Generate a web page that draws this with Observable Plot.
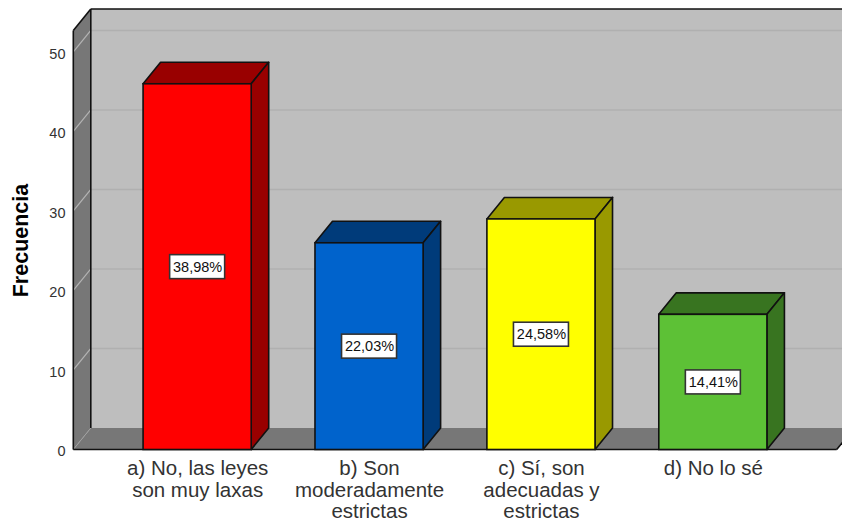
<!DOCTYPE html>
<html>
<head>
<meta charset="utf-8">
<script src="https://cdn.jsdelivr.net/npm/d3@7"></script>
<script src="https://cdn.jsdelivr.net/npm/@observablehq/plot@0.6"></script>
<style>
html,body{margin:0;padding:0;background:#fff;overflow:hidden}
svg{display:block}
</style>
</head>
<body>
<div id="chart"></div>
<script>
const categorias = ["a) No, las leyes\nson muy laxas", "b) Son\nmoderadamente\nestrictas", "c) Sí, son\nadecuadas y\nestrictas", "d) No lo sé"];
const frecuencias = [46, 26, 29, 17];
const porcentajes = ["38,98%", "22,03%", "24,58%", "14,41%"];
const coloresFrente = ["#FF0000", "#0063CC", "#FFFF00", "#5DC136"];
const coloresLado = ["#990000", "#003B7A", "#999900", "#387420"];
const ticksY = [0, 10, 20, 30, 40, 50];
const topeY = 52.7;

const filas = categorias.map((c, i) => ({c, f: frecuencias[i], p: porcentajes[i], col: coloresFrente[i], lado: coloresLado[i]}));

const DX = 17.5, DY = -21.5, PAD = 6;
const poly = (g, pts, fill, stroke, sw) => g.append("path")
  .attr("d", "M" + pts.map(p => p.join(",")).join("L") + "Z")
  .attr("fill", fill).attr("stroke", stroke || "none").attr("stroke-width", sw || 0).attr("stroke-linejoin", "round");
const seg = (g, x1, y1, x2, y2, stroke, sw) => g.append("line")
  .attr("x1", x1).attr("y1", y1).attr("x2", x2).attr("y2", y2)
  .attr("stroke", stroke).attr("stroke-width", sw);

function escenario(index, {x, y}) {
  const g = d3.create("svg:g");
  const r = x.range();
  const left = d3.min(r) - PAD, right = d3.max(r) + PAD;
  const y0 = y(0), yT = y(topeY);
  poly(g, [[left + DX, yT + DY], [860, yT + DY], [860, y0 + DY], [left + DX, y0 + DY]], "#BEBEBE");
  poly(g, [[left, y0], [right, y0], [right + DX, y0 + DY], [left + DX, y0 + DY]], "#777777");
  poly(g, [[left, yT], [left + DX, yT + DY], [left + DX, y0 + DY], [left, y0]], "#777777");
  for (const t of ticksY.filter(t => t > 0)) {
    seg(g, left + DX, y(t) + DY, 860, y(t) + DY, "#B0B0B0", 1.5);
    seg(g, left, y(t), left + DX, y(t) + DY, "#B4B4B4", 1.2);
  }
  seg(g, left, y0, left + DX, y0 + DY, "#A0A0A0", 1);
  seg(g, left, yT, left, y0, "#111", 1.6);
  seg(g, left + DX, yT + DY, left + DX, y0 + DY, "#111", 1.6);
  seg(g, left, yT, left + DX, yT + DY, "#111", 1.6);
  seg(g, left + DX, yT + DY, 860, yT + DY, "#111", 1.6);
  seg(g, left, y0, right, y0, "#111", 1.6);
  seg(g, right, y0, right + DX, y0 + DY, "#111", 1.6);
  return g.node();
}

function caras(index, {x, y}) {
  const g = d3.create("svg:g");
  const w = x.bandwidth();
  for (const d of filas) {
    const a = x(d.c), b = a + w, t = y(d.f), z = y(0);
    poly(g, [[a, t], [b, t], [b + DX, t + DY], [a + DX, t + DY]], d.lado, "#111", 1.6);
    poly(g, [[b, t], [b + DX, t + DY], [b + DX, z + DY], [b, z]], d.lado, "#111", 1.6);
  }
  return g.node();
}

function cajas(index, {x, y}) {
  const g = d3.create("svg:g");
  const w = x.bandwidth();
  for (const d of filas) {
    const cx = x(d.c) + w / 2, cy = y(d.f / 2);
    g.append("rect").attr("x", cx - 27.5).attr("y", cy - 12).attr("width", 55).attr("height", 24)
      .attr("fill", "#fff").attr("stroke", "#333").attr("stroke-width", 1.6);
  }
  return g.node();
}

const grafico = Plot.plot({
  width: 842, height: 522,
  marginLeft: 79.3, marginRight: 11.3, marginTop: 30.5, marginBottom: 72.5,
  style: {fontFamily: "'Liberation Sans', Arial, sans-serif", background: "#fff", overflow: "visible"},
  x: {domain: categorias, padding: 0.371, round: false, label: null},
  y: {domain: [0, topeY], label: null},
  marks: [
    escenario,
    caras,
    Plot.barY(filas, {x: "c", y: "f", fill: "col", stroke: "#111", strokeWidth: 1.6}),
    cajas,
    Plot.text(filas, {x: "c", y: d => d.f / 2, text: "p", fontSize: 14.5, fill: "#111"}),
    Plot.axisY({ticks: ticksY, tickFormat: d => d, tickSize: 0, tickPadding: 14.3, fontSize: 14.5, dy: 1.5, fill: "#333", label: null}),
    Plot.axisX({tickSize: 0, tickPadding: 10, fontSize: 20.5, lineHeight: 1.05, fill: "#333", label: null}),
    Plot.text(["Frecuencia"], {frameAnchor: "left", textAnchor: "middle", dx: -59, rotate: -90, fontSize: 21.5, fontWeight: "bold", fill: "#000"})
  ]
});
document.getElementById("chart").appendChild(grafico);
</script>
</body>
</html>
